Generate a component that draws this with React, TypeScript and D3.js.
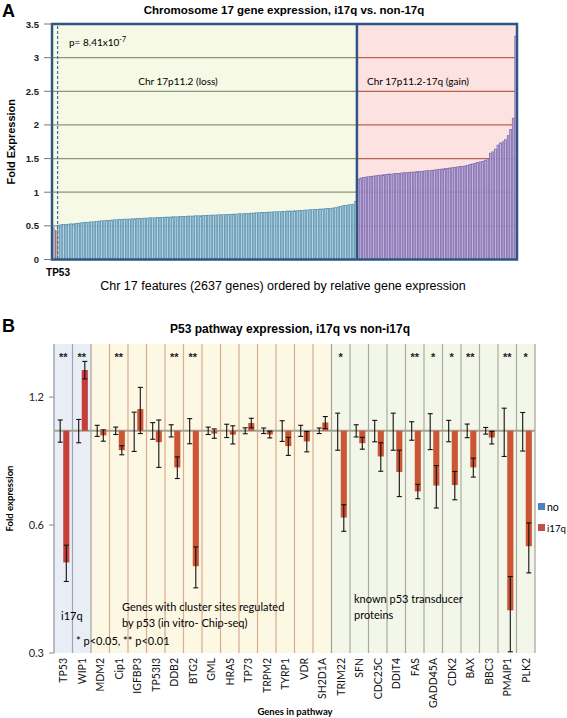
import React from "react";
import * as d3 from "d3";

const W = 567;
const H = 718;

// ---------------- Panel A data ----------------
const leadValues = [0.47];
const tp53Value = 0.44;
const lossValues = [
  0.51, 0.515, 0.52, 0.52, 0.525, 0.53, 0.53, 0.535, 0.54, 0.545, 0.55, 0.55, 0.555, 0.56, 0.56, 0.565,
  0.57, 0.575, 0.575, 0.58, 0.58, 0.585, 0.59, 0.59, 0.595, 0.595, 0.6, 0.6, 0.6, 0.605, 0.605, 0.61,
  0.61, 0.61, 0.615, 0.615, 0.62, 0.62, 0.62, 0.625, 0.625, 0.625, 0.63, 0.63, 0.63, 0.635, 0.635, 0.635,
  0.64, 0.64, 0.64, 0.645, 0.645, 0.645, 0.65, 0.65, 0.65, 0.655, 0.655, 0.655, 0.66, 0.66, 0.66, 0.665,
  0.665, 0.665, 0.67, 0.67, 0.67, 0.675, 0.675, 0.68, 0.68, 0.68, 0.685, 0.685, 0.69, 0.69, 0.695, 0.695,
  0.7, 0.7, 0.7, 0.705, 0.705, 0.71, 0.71, 0.71, 0.715, 0.715, 0.72, 0.72, 0.72, 0.725, 0.725, 0.73,
  0.73, 0.735, 0.735, 0.74, 0.74, 0.745, 0.745, 0.75, 0.75, 0.755, 0.76, 0.76, 0.765, 0.77, 0.78, 0.79,
  0.8, 0.805, 0.81, 0.815, 0.82, 0.86,
];
const gainValues = [
  1.19, 1.21, 1.22, 1.225, 1.23, 1.235, 1.24, 1.245, 1.25, 1.255, 1.26, 1.265, 1.27, 1.27, 1.275, 1.28,
  1.28, 1.285, 1.29, 1.29, 1.295, 1.3, 1.3, 1.305, 1.31, 1.31, 1.315, 1.32, 1.32, 1.325, 1.33, 1.335,
  1.34, 1.345, 1.35, 1.355, 1.36, 1.365, 1.37, 1.375, 1.38, 1.385, 1.39, 1.4, 1.41, 1.42, 1.43, 1.44,
  1.45, 1.46, 1.47, 1.5, 1.58, 1.6, 1.64, 1.7, 1.73, 1.75, 1.78, 1.84, 1.93, 2.1, 3.32,
];
const ticksA = [0, 0.5, 1, 1.5, 2, 2.5, 3, 3.5];

// ---------------- Panel B data ----------------
const genes = [
  "TP53", "WIP1", "MDM2", "Cip1", "IGFBP3", "TP53I3", "DDB2", "BTG2", "GML", "HRAS", "TP73", "TRPM2",
  "TYRP1", "VDR", "SH2D1A", "TRIM22", "SFN", "CDC25C", "DDIT4", "FAS", "GADD45A", "CDK2", "BAX", "BBC3",
  "PMAIP1", "PLK2",
];
const geneGroups = [
  "i17q", "i17q",
  "cluster", "cluster", "cluster", "cluster", "cluster", "cluster", "cluster", "cluster", "cluster", "cluster", "cluster", "cluster", "cluster",
  "transducer", "transducer", "transducer", "transducer", "transducer", "transducer", "transducer", "transducer", "transducer", "transducer", "transducer",
];
const noValues = [1, 1, 1, 1, 1, 1, 1, 1, 1, 1, 1, 1, 1, 1, 1, 1, 1, 1, 1, 1, 1, 1, 1, 1, 1, 1];
const noErr = [
  0.06, 0.063, 0.03, 0.02, 0.106, 0.045, 0.033, 0.068, 0.02, 0.036, 0.016, 0.015, 0.056, 0.03, 0.015,
  0.1, 0.033, 0.058, 0.1, 0.05, 0.097, 0.058, 0.037, 0.018, 0.13, 0.104,
];
const i17qValues = [
  0.49, 1.39, 0.975, 0.9, 1.125, 0.94, 0.82, 0.48, 0.985, 0.979, 1.043, 0.98, 0.92, 0.944, 1.046,
  0.625, 0.935, 0.87, 0.8, 0.72, 0.743, 0.745, 0.82, 0.964, 0.378, 0.535,
];
const i17qErr = [
  0.048, 0.066, 0.03, 0.022, 0.14, 0.12, 0.048, 0.053, 0.025, 0.048, 0.027, 0.018, 0.045, 0.052, 0.034,
  0.045, 0.03, 0.067, 0.1, 0.028, 0.085, 0.057, 0.042, 0.033, 0.076, 0.072,
];
const stars = [
  "**", "**", "", "**", "", "", "**", "**", "", "", "", "", "", "", "",
  "*", "", "", "", "**", "*", "*", "**", "", "**", "*",
];
const ticksB = [0.3, 0.6, 1.2];

const ARIAL = "'Liberation Sans', Arial, sans-serif";
const CAL = "Lato, 'Open Sans', sans-serif";

function PanelA() {
  const all = [...leadValues, tp53Value, ...lossValues, ...gainValues];
  const N = all.length;
  const left = 52, right = 517, top = 24, bottom = 259.5;
  const x = d3.scaleLinear().domain([0, N]).range([left, right]);
  const y = d3.scaleLinear().domain([0, 3.5]).range([bottom, top]);
  const lossStart = leadValues.length + 1;
  const gainStart = lossStart + lossValues.length;
  const xd = x(gainStart);
  const bw = x(1) - x(0);
  const gridTicks = ticksA.filter((t) => t > 0 && t < 3.5);
  return (
    <g>
      <text x={2} y={17} fontFamily={ARIAL} fontWeight="bold" fontSize={18}>A</text>
      <text x={284} y={14} textAnchor="middle" fontFamily={ARIAL} fontWeight="bold" fontSize={11.5}>
        Chromosome 17 gene expression, i17q vs. non-17q
      </text>
      <rect x={left} y={top} width={xd - left} height={bottom - top} fill="#f5f9e6" />
      <rect x={xd} y={top} width={right - xd} height={bottom - top} fill="#fde2e2" />
      {gridTicks.map((t) => (
        <g key={t}>
          <line x1={left} x2={xd} y1={y(t)} y2={y(t)} stroke="#8e9678" strokeWidth={1.3} />
          <line x1={xd} x2={right} y1={y(t)} y2={y(t)} stroke="#b8624e" strokeWidth={1.3} />
        </g>
      ))}
      {all.map((v, i) => {
        let fill = "#b4d6e4", stroke = "#5189aa";
        if (i === leadValues.length) { fill = "#c0392b"; stroke = "#c0392b"; }
        else if (i >= gainStart) { fill = "#c2b2df"; stroke = "#7662a6"; }
        const isTp = i === leadValues.length;
        return (
          <rect
            key={i}
            x={isTp ? x(i) + bw / 2 - 0.6 : x(i) + 0.35}
            y={y(v)}
            width={isTp ? 1.2 : bw - 0.7}
            height={y(0) - y(v)}
            fill={fill}
            stroke={stroke}
            strokeWidth={isTp ? 0 : 0.7}
          />
        );
      })}
      <line x1={x(lossStart) + 0.5} x2={x(lossStart) + 0.5} y1={top + 2} y2={bottom} stroke="#3d70a0" strokeWidth={1.2} strokeDasharray="3,2" />
      <rect x={left} y={top} width={right - left} height={bottom - top} fill="none" stroke="#2f5585" strokeWidth={2.5} />
      <line x1={xd} x2={xd} y1={top} y2={bottom} stroke="#2f5585" strokeWidth={2.5} />
      {ticksA.map((t) => (
        <g key={t}>
          <line x1={44} x2={left} y1={y(t)} y2={y(t)} stroke="#777" strokeWidth={1} />
          <text x={39} y={y(t) + 3.5} textAnchor="end" fontFamily={ARIAL} fontWeight="bold" fontSize={9.5} fill="#222">
            {t}
          </text>
        </g>
      ))}
      <text transform={`translate(15,${(top + bottom) / 2}) rotate(-90)`} textAnchor="middle" fontFamily={ARIAL} fontWeight="bold" fontSize={11}>
        Fold Expression
      </text>
      <text x={69} y={46} fontFamily={CAL} fontSize={10}>
        p= 8.41x10<tspan dy={-4} fontSize={7}>-7</tspan>
      </text>
      <text x={178} y={85} textAnchor="middle" fontFamily={CAL} fontSize={10}>Chr 17p11.2 (loss)</text>
      <text x={367} y={85} fontFamily={CAL} fontSize={10}>Chr 17p11.2-17q (gain)</text>
      <text x={58} y={276} textAnchor="middle" fontFamily={ARIAL} fontWeight="bold" fontSize={10}>TP53</text>
      <text x={283} y={290} textAnchor="middle" fontFamily={ARIAL} fontSize={12.5}>
        Chr 17 features (2637 genes) ordered by relative gene expression
      </text>
    </g>
  );
}

function PanelB() {
  const left = 54, right = 535, top = 344, bottom = 653;
  const x = d3.scaleBand().domain(genes).range([left, right]).padding(0);
  const y = d3.scaleLog().base(2).domain([0.3, 1.6]).range([bottom, top]);
  const bw = x.bandwidth();
  const y1 = y(1);
  const bgColor: Record<string, string> = { i17q: "#e9edf6", cluster: "#fdf8e3", transducer: "#f3f7ea" };
  const lineColor: Record<string, string> = { i17q: "#9ea3b5", cluster: "#d9ab92", transducer: "#a9aa9c" };
  const barW = bw * 0.33;
  return (
    <g>
      <text x={2} y={332} fontFamily={ARIAL} fontWeight="bold" fontSize={18}>B</text>
      <text x={290} y={333} textAnchor="middle" fontFamily={ARIAL} fontWeight="bold" fontSize={12}>
        P53 pathway expression, i17q vs non-i17q
      </text>
      {genes.map((g, i) => (
        <rect key={g} x={x(g)!} y={top} width={bw + 0.3} height={bottom - top} fill={bgColor[geneGroups[i]]} />
      ))}
      {genes.map((g, i) => {
        if (i === 0) return null;
        const prev = geneGroups[i - 1], cur = geneGroups[i];
        const c = prev !== cur ? "#a3a49a" : lineColor[cur];
        return <line key={g} x1={x(g)!} x2={x(g)!} y1={top} y2={bottom} stroke={c} strokeWidth={1.2} />;
      })}
      <line x1={left} x2={left} y1={top} y2={bottom} stroke="#8f94a8" strokeWidth={1.2} />
      <line x1={right} x2={right} y1={top} y2={bottom} stroke="#a3a49a" strokeWidth={1.2} />
      <line x1={left} x2={right} y1={y1} y2={y1} stroke="#a3a394" strokeWidth={2} />
      {genes.map((g, i) => {
        const x0 = x(g)!;
        const v = i17qValues[i];
        const nv = noValues[i];
        const cxNo = x0 + bw * 0.335;
        const cxI = x0 + bw * 0.665;
        const eTop = y(v + i17qErr[i]);
        const eBot = y(Math.max(0.3, v - i17qErr[i]));
        return (
          <g key={g}>
            <rect x={cxNo - barW / 2} y={Math.min(y(nv), y1)} width={barW} height={Math.abs(y(nv) - y1)} fill="#4f81bd" />
            <rect x={cxI - barW / 2} y={Math.min(y(v), y1)} width={barW} height={Math.abs(y(v) - y1)} fill={i < 2 ? "#c43e3a" : "#cb5636"} />
            <g stroke="#111" strokeWidth={1.1}>
              <line x1={cxNo} x2={cxNo} y1={y(nv + noErr[i])} y2={y(nv - noErr[i])} />
              <line x1={cxNo - 2.5} x2={cxNo + 2.5} y1={y(nv + noErr[i])} y2={y(nv + noErr[i])} />
              <line x1={cxNo - 2.5} x2={cxNo + 2.5} y1={y(nv - noErr[i])} y2={y(nv - noErr[i])} />
              <line x1={cxI} x2={cxI} y1={eTop} y2={eBot} />
              <line x1={cxI - 2.5} x2={cxI + 2.5} y1={eTop} y2={eTop} />
              <line x1={cxI - 2.5} x2={cxI + 2.5} y1={eBot} y2={eBot} />
            </g>
            {stars[i] && (
              <text x={x0 + bw / 2} y={361} textAnchor="middle" fontFamily={ARIAL} fontWeight="bold" fontSize={11} fill="#222">
                {stars[i]}
              </text>
            )}
            <text
              transform={`translate(${x0 + bw / 2 + 3.8},658) rotate(-90)`}
              textAnchor="end"
              fontFamily={CAL}
              fontSize={10.5}
              fill="#111"
            >
              {g}
            </text>
          </g>
        );
      })}
      {ticksB.map((t) => (
        <g key={t}>
          <line x1={49} x2={left} y1={y(t)} y2={y(t)} stroke="#888" strokeWidth={1} />
          <text x={44} y={y(t) + 4} textAnchor="end" fontFamily={CAL} fontSize={11} fill="#222">{t}</text>
        </g>
      ))}
      <text transform={`translate(13,${(top + bottom) / 2}) rotate(-90)`} textAnchor="middle" fontFamily={CAL} fontWeight="bold" fontSize={9.5}>
        Fold expression
      </text>
      <text x={295} y={715} textAnchor="middle" fontFamily={CAL} fontWeight="bold" fontSize={9.5}>Genes in pathway</text>
      <text x={61} y={620} fontFamily={CAL} fontSize={11}>i17q</text>
      <text x={76} y={645} fontFamily={CAL} fontSize={11}>*  p&lt;0.05, ** p&lt;0.01</text>
      <text x={122} y={611} fontFamily={CAL} fontSize={11}>Genes with cluster sites regulated</text>
      <text x={122} y={627} fontFamily={CAL} fontSize={11}>by p53 (in vitro- Chip-seq)</text>
      <text x={354} y={603} fontFamily={CAL} fontSize={11}>known p53 transducer</text>
      <text x={354} y={619} fontFamily={CAL} fontSize={11}>proteins</text>
      <rect x={538} y={503} width={7} height={7} fill="#4f81bd" />
      <text x={547} y={511} fontFamily={CAL} fontSize={10.5}>no</text>
      <rect x={538} y={524} width={7} height={7} fill="#c0504d" />
      <text x={547} y={532} fontFamily={CAL} fontSize={10} textLength={19} lengthAdjust="spacingAndGlyphs">i17q</text>
    </g>
  );
}

export default function App() {
  return (
    <svg width={W} height={H} viewBox={`0 0 ${W} ${H}`} style={{ position: "absolute", left: 0, top: 0, background: "#fff" }}>
      <rect x={0} y={0} width={W} height={H} fill="#fff" />
      <PanelA />
      <PanelB />
    </svg>
  );
}
